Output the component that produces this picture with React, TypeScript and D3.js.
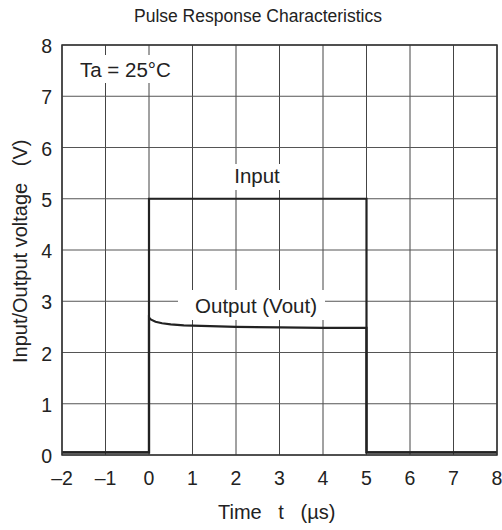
import * as d3 from "d3";

const xTicks = [-2, -1, 0, 1, 2, 3, 4, 5, 6, 7, 8];
const yTicks = [0, 1, 2, 3, 4, 5, 6, 7, 8];

// input pulse (V)
const inputT = [-2, 0, 0, 5, 5, 8];
const inputV = [0.05, 0.05, 5, 5, 0.05, 0.05];

// output response (V)
const outputT = [-2, 0, 0, 0.05, 0.15, 0.3, 0.5, 0.8, 1.2, 2, 3, 4, 5, 5, 8];
const outputV = [0.05, 0.05, 2.68, 2.64, 2.6, 2.57, 2.55, 2.53, 2.52, 2.5, 2.49, 2.48, 2.48, 0.05, 0.05];

const W = 502;
const H = 530;
const M = { left: 62, right: 5, top: 45, bottom: 75 };
const FONT = "'Liberation Sans', Arial, sans-serif";
const INK = "#222";

export default function App() {
  const x = d3.scaleLinear().domain([-2, 8]).range([M.left, W - M.right]);
  const y = d3.scaleLinear().domain([0, 8]).range([H - M.bottom, M.top]);

  const line = d3
    .line<[number, number]>()
    .x((d) => x(d[0]))
    .y((d) => y(d[1]));

  const inputPts = inputT.map((t, i) => [t, inputV[i]] as [number, number]);
  const outputPts = outputT.map((t, i) => [t, outputV[i]] as [number, number]);

  return (
    <svg width={W} height={H} style={{ position: "absolute", left: 0, top: 0 }}>
      <rect width={W} height={H} fill="#fff" />
      <text x={258} y={22} textAnchor="middle" fontFamily={FONT} fontSize={17.5} fill={INK}>
        Pulse Response Characteristics
      </text>

      {xTicks.map((t) => (
        <line key={"gx" + t} x1={x(t)} x2={x(t)} y1={y(0)} y2={y(8)} stroke="#444" strokeWidth={1} />
      ))}
      {yTicks.map((t) => (
        <line key={"gy" + t} x1={x(-2)} x2={x(8)} y1={y(t)} y2={y(t)} stroke="#555" strokeWidth={1} />
      ))}

      {/* white boxes behind in-plot labels */}
      <rect x={75} y={55} width={110} height={28} fill="#fff" />
      <rect x={226} y={164} width={62} height={26} fill="#fff" />
      <rect x={178} y={290} width={147} height={30} fill="#fff" />

      <path d={line(outputPts) ?? ""} fill="none" stroke={INK} strokeWidth={2.2} />
      <path d={line(inputPts) ?? ""} fill="none" stroke={INK} strokeWidth={2.2} />

      <rect x={x(-2)} y={y(8)} width={x(8) - x(-2)} height={y(0) - y(8)} fill="none" stroke="#333" strokeWidth={1.5} />

      <text x={80} y={77} fontFamily={FONT} fontSize={20.5} fill={INK}>
        Ta = 25°C
      </text>
      <text x={257} y={183} textAnchor="middle" fontFamily={FONT} fontSize={20.5} fill={INK}>
        Input
      </text>
      <text x={256} y={313} textAnchor="middle" fontFamily={FONT} fontSize={20.5} fill={INK}>
        Output (Vout)
      </text>

      {xTicks.map((t) => (
        <text key={"tx" + t} x={x(t)} y={y(0) + 30} textAnchor="middle" fontFamily={FONT} fontSize={19.5} fill={INK}>
          {t < 0 ? "–" + Math.abs(t) : t}
        </text>
      ))}
      {yTicks.map((t) => (
        <text key={"ty" + t} x={x(-2) - 10} y={y(t) + 8} textAnchor="end" fontFamily={FONT} fontSize={19.5} fill={INK}>
          {t}
        </text>
      ))}

      <text x={218} y={519} fontFamily={FONT} fontSize={20} fill={INK} xmlSpace="preserve">
        Time   t   (µs)
      </text>
      <text
        transform={`translate(27, 363) rotate(-90)`}
        fontFamily={FONT}
        fontSize={20}
        fill={INK}
        xmlSpace="preserve"
      >
        Input/Output voltage   (V)
      </text>
    </svg>
  );
}
